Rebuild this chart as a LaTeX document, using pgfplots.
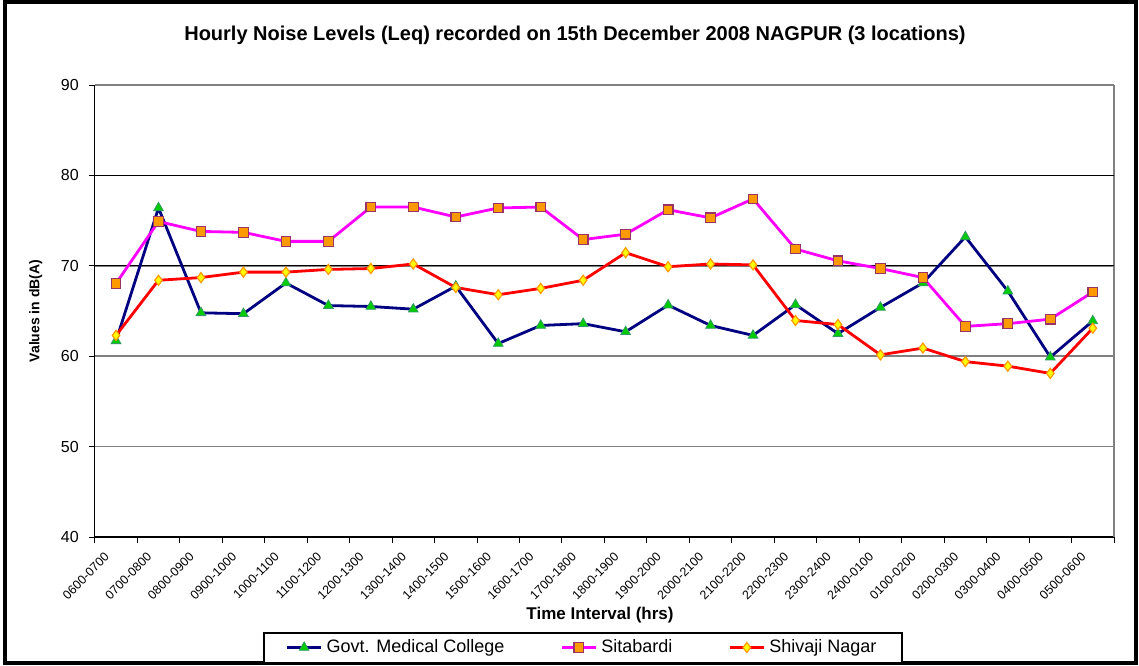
\documentclass[border=0pt]{standalone}
\usepackage{fontspec}
\setmainfont{Liberation Sans}
\usepackage{pgfplots}
\usepackage{pgfplotstable}
\pgfplotsset{compat=1.18}
\definecolor{gmcline}{HTML}{000080}
\definecolor{gmcfill}{HTML}{00CC00}
\definecolor{gmcedge}{HTML}{339966}
\definecolor{sitline}{HTML}{FF00FF}
\definecolor{sitfill}{HTML}{FF9900}
\definecolor{sitedge}{HTML}{993366}
\definecolor{shvline}{HTML}{FF0000}
\definecolor{shvfill}{HTML}{FFFF00}
\definecolor{shvedge}{HTML}{FF9900}
\definecolor{gridgray}{HTML}{808080}

% hourly Leq, dB(A)
\pgfplotstableread{
idx gmc   sit   shv
0   61.7  68.05 62.3
1   76.4  74.9  68.4
2   64.8  73.8  68.7
3   64.7  73.7  69.3
4   68.1  72.7  69.3
5   65.6  72.7  69.6
6   65.5  76.5  69.7
7   65.2  76.5  70.2
8   67.75 75.4  67.6
9   61.4  76.4  66.8
10  63.4  76.5  67.5
11  63.6  72.9  68.4
12  62.7  73.5  71.45
13  65.65 76.2  69.9
14  63.4  75.3  70.2
15  62.3  77.4  70.1
16  65.7  71.85 63.95
17  62.5  70.55 63.5
18  65.4  69.7  60.15
19  68.1  68.7  60.9
20  73.2  63.3  59.4
21  67.2  63.6  58.9
22  59.9  64.1  58.1
23  63.9  67.1  63.1
}\noisedata

\begin{document}
\begin{tikzpicture}
\path[use as bounding box] (0,0) rectangle (569.5pt,332.5pt);
\draw[line width=1.6pt] (2.5pt,1pt) rectangle (568pt,331.5pt);
\node[font=\bfseries\fontsize{10}{12}\selectfont] at (287.5pt,315pt)
  {Hourly Noise Levels (Leq) recorded on 15th December 2008 NAGPUR (3 locations)};
\begin{axis}[
  at={(47.4pt,64pt)}, anchor=south west,
  scale only axis, width=509.6pt, height=226pt,
  xmin=-0.5, xmax=23.5, ymin=40, ymax=90,
  axis lines*=left,
  axis line style={black, line width=0.6pt},
  tick align=outside,
  ytick={40,50,...,90},
  xtick={0,...,23},
  xticklabels={0600-0700,0700-0800,0800-0900,0900-1000,1000-1100,1100-1200,
    1200-1300,1300-1400,1400-1500,1500-1600,1600-1700,1700-1800,1800-1900,
    1900-2000,2000-2100,2100-2200,2200-2300,2300-2400,2400-0100,0100-0200,
    0200-0300,0300-0400,0400-0500,0500-0600},
  major x tick style={draw=none},
  minor xtick={-0.5,0.5,...,23.5},
  minor tick length=3pt,
  minor x tick style={black, line width=0.5pt},
  major tick length=3pt,
  y tick style={black, line width=0.5pt},
  ymajorgrids,
  major grid style={gridgray, line width=0.8pt},
  extra y ticks={70,80},
  extra y tick labels={},
  extra y tick style={grid=major, major grid style={black, line width=0.6pt}},
  extra x ticks={23.5},
  extra x tick labels={},
  extra x tick style={grid=major, major grid style={gridgray, line width=0.9pt}, major x tick style={draw=none}},
  /pgf/number format/assume math mode=true,
  yticklabel style={font=\fontsize{8}{9}\selectfont, xshift=-1.5pt},
  xticklabel style={font=\fontsize{6.2}{7}\selectfont, rotate=45, anchor=east, xshift=-4pt, yshift=-1pt},
  xlabel={Time Interval (hrs)},
  xlabel style={font=\bfseries\fontsize{8.5}{10}\selectfont, at={(axis description cs:0.4957,-0.172)}, anchor=center},
  ylabel={Values in dB(A)},
  ylabel style={font=\bfseries\fontsize{7}{8}\selectfont, at={(axis description cs:-0.058,0.5)}, anchor=center},
  legend columns=3,
  legend style={at={(0.479,-0.2445)}, anchor=center, draw=black, line width=1pt,
    font=\fontsize{9}{10}\selectfont, inner xsep=11pt, inner ysep=1.5pt,
    /tikz/every even column/.append style={column sep=26pt}},
]
\addplot[color=gmcline, line width=1.4pt, mark=triangle*, mark size=2.8pt,
  mark options={fill=gmcfill, draw=gmcedge, line width=0.4pt}]
  table[x=idx, y=gmc] {\noisedata};
\addlegendentry{Govt. Medical College}
\addplot[color=sitline, line width=1.4pt, mark=square*, mark size=2.4pt,
  mark options={fill=sitfill, draw=sitedge, line width=0.6pt}]
  table[x=idx, y=sit] {\noisedata};
\addlegendentry{Sitabardi}
\addplot[color=shvline, line width=1.4pt, mark=diamond*, mark size=2.5pt,
  mark options={fill=shvfill, draw=shvedge, line width=0.6pt}]
  table[x=idx, y=shv] {\noisedata};
\addlegendentry{Shivaji Nagar}
\end{axis}
\end{tikzpicture}
\end{document}
